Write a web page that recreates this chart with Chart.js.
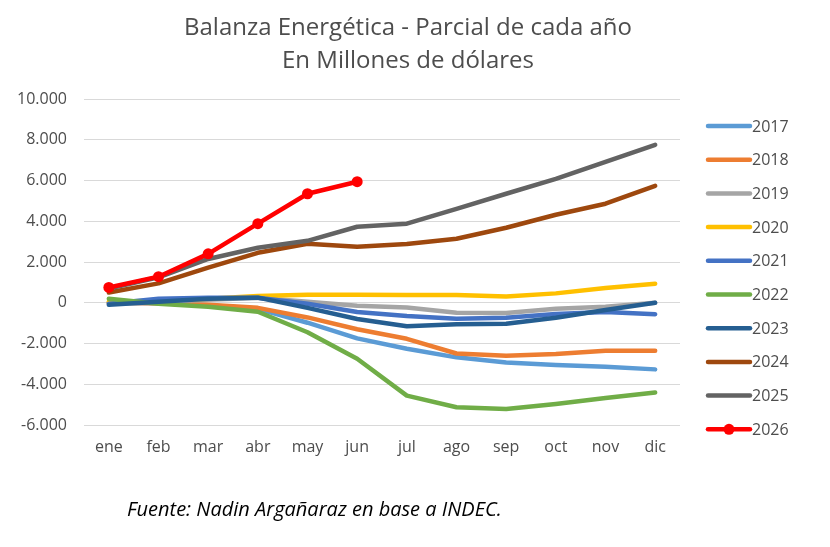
<!DOCTYPE html>
<html>
<head>
<meta charset="utf-8">
<script src="https://cdn.jsdelivr.net/npm/chart.js@4.4.1/dist/chart.umd.min.js"></script>
<style>
  html, body { margin: 0; padding: 0; background: #fff; }
  #wrap { position: relative; width: 830px; height: 547px; overflow: hidden; }
  #c { position: absolute; left: 0; top: 0; }
  .title { position: absolute; left: 0; width: 816px; text-align: center; color: #4d4d4d;
           font-family: "Open Sans", sans-serif; font-size: 24px; line-height: 32px; }
  #src { position: absolute; left: 127px; top: 495px; font-family: "Open Sans", sans-serif;
         font-style: italic; font-size: 20px; color: #000; }
</style>
</head>
<body>
<div id="wrap">
  <canvas id="c" width="830" height="547"></canvas>
  <div class="title" style="top:10px">Balanza Energética - Parcial de cada año</div>
  <div class="title" style="top:43px">En Millones de dólares</div>
  <div id="src">Fuente: Nadin Argañaraz en base a INDEC.</div>
</div>
<script>
const months = ["ene","feb","mar","abr","may","jun","jul","ago","sep","oct","nov","dic"];
const years = ["2017","2018","2019","2020","2021","2022","2023","2024","2025","2026"];
const colors = ["#5B9BD5","#ED7D31","#A5A5A5","#FFC000","#4472C4","#70AD47","#255E91","#9E480E","#636363","#FF0000"];

const y2017 = [0, -30, -120, -300, -980, -1750, -2260, -2680, -2930, -3050, -3140, -3270];
const y2018 = [0, -30, -100, -250, -720, -1300, -1770, -2490, -2600, -2520, -2360, -2360];
const y2019 = [0, 50, 150, 250, 50, -150, -230, -490, -500, -300, -200, 0];
const y2020 = [50, 100, 200, 330, 390, 390, 380, 380, 310, 460, 720, 930];
const y2021 = [-50, 200, 250, 250, -50, -450, -650, -780, -740, -550, -450, -560];
const y2022 = [200, -50, -200, -440, -1450, -2750, -4560, -5130, -5220, -4970, -4680, -4400];
const y2023 = [-100, 50, 200, 250, -250, -800, -1150, -1050, -1030, -740, -360, 0];
const y2024 = [500, 950, 1720, 2450, 2900, 2750, 2880, 3140, 3680, 4320, 4860, 5740];
const y2025 = [700, 1250, 2150, 2700, 3040, 3730, 3880, 4610, 5350, 6080, 6920, 7750];
const y2026 = [750, 1280, 2400, 3880, 5350, 5940];

const series = [y2017, y2018, y2019, y2020, y2021, y2022, y2023, y2024, y2025, y2026];
const yTicks = [-6000, -4000, -2000, 0, 2000, 4000, 6000, 8000, 10000];

function fmt(v) {
  const s = String(Math.abs(v)).replace(/\B(?=(\d{3})+(?!\d))/g, ".");
  return (v < 0 ? "-" : "") + s;
}

const datasets = series.map((d, i) => ({
  label: years[i],
  data: d,
  borderColor: colors[i],
  backgroundColor: colors[i],
  borderWidth: 4.5,
  pointRadius: years[i] === "2026" ? 5.5 : 0,
  pointBorderWidth: 0,
  pointBackgroundColor: colors[i],
  tension: 0,
  borderCapStyle: "round",
  borderJoinStyle: "round",
  order: series.length - 1 - i
}));

const legendPlugin = {
  id: "customLegend",
  afterDraw(chart) {
    const ctx = chart.ctx;
    ctx.save();
    const x0 = 708, x1 = 750, top = 126, step = 33.7;
    chart.data.datasets.forEach((ds, i) => {
      const y = top + i * step;
      ctx.strokeStyle = ds.borderColor;
      ctx.lineWidth = 4.5;
      ctx.lineCap = "round";
      ctx.beginPath(); ctx.moveTo(x0, y); ctx.lineTo(x1, y); ctx.stroke();
      if (ds.pointRadius > 0) {
        ctx.fillStyle = ds.borderColor;
        ctx.beginPath(); ctx.arc((x0 + x1) / 2, y, 5.5, 0, Math.PI * 2); ctx.fill();
      }
      ctx.fillStyle = "#4d4d4d";
      ctx.font = '16px "Open Sans", sans-serif';
      ctx.textAlign = "left";
      ctx.textBaseline = "middle";
      ctx.fillText(ds.label, 752, y + 1);
    });
    ctx.restore();
  }
};

new Chart(document.getElementById("c"), {
  type: "line",
  data: { labels: months, datasets },
  options: {
    responsive: false,
    animation: false,
    devicePixelRatio: 1,
    layout: { padding: { top: 99, right: 150, bottom: 0, left: 0 } },
    plugins: { legend: { display: false }, tooltip: { enabled: false }, title: { display: false } },
    scales: {
      x: {
        offset: true,
        grid: { display: false, drawTicks: false },
        border: { display: false },
        ticks: { color: "#4d4d4d", font: { family: "Open Sans", size: 16 }, padding: 13, maxRotation: 0 },
        afterFit(a) { a.height = 122; }
      },
      y: {
        min: -6000, max: 10000,
        afterBuildTicks(a) { a.ticks = yTicks.map(v => ({ value: v })); },
        grid: { color: "#d9d9d9", lineWidth: 1, drawTicks: false },
        border: { display: false },
        ticks: { color: "#4d4d4d", font: { family: "Open Sans", size: 16 }, padding: 17, callback: v => fmt(v) },
        afterFit(a) { a.width = 84; }
      }
    }
  },
  plugins: [legendPlugin]
});
</script>
</body>
</html>
